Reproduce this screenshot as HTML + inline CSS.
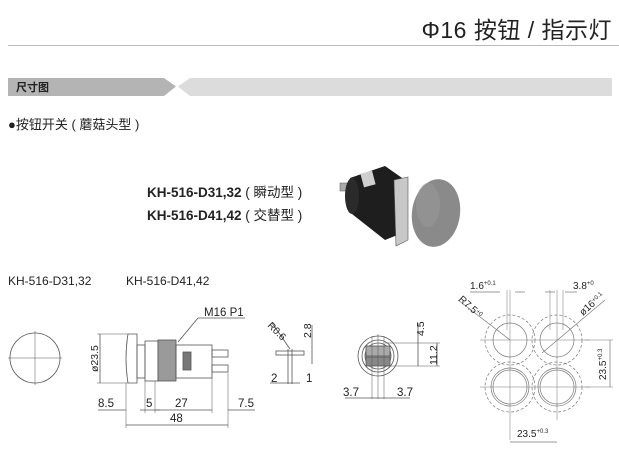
<!DOCTYPE html>
<html><head><meta charset="utf-8"><style>
html,body{margin:0;padding:0;background:#fff;}
svg{display:block;}
text{font-family:"Liberation Sans","Noto Sans CJK SC",sans-serif;fill:#222;}
</style></head><body>
<svg width="619" height="462" viewBox="0 0 619 462" xmlns="http://www.w3.org/2000/svg">
<text x="612" y="38" font-size="23" text-anchor="end" fill="#111" letter-spacing="0.5">Φ16 按钮 / 指示灯</text>
<line x1="8" y1="45.5" x2="619" y2="45.5" stroke="#bbb" stroke-width="1"/>
<polygon points="8,78 164,78 176,86.5 164,96 8,96" fill="#b4b4b4"/>
<polygon points="190,78 612,78 612,96 190,96 178,86.5" fill="#dcdcdc"/>
<text x="16" y="91" font-size="11" font-weight="bold" fill="#111">尺寸图</text>
<text x="8" y="129" font-size="13" xml:space="preserve">●按钮开关 ( 蘑菇头型 )</text>
<text x="147" y="197" font-size="13.5" font-weight="bold" fill="#111" xml:space="preserve">KH-516-D31,32<tspan font-weight="normal"> ( 瞬动型 )</tspan></text>
<text x="147" y="220" font-size="13.5" font-weight="bold" fill="#111" xml:space="preserve">KH-516-D41,42<tspan font-weight="normal"> ( 交替型 )</tspan></text>
<!-- photo -->
<g>
<rect x="340" y="183" width="10" height="8" fill="#aaa" stroke="#555" stroke-width="0.5"/>
<polygon points="350,178 385,166 405,180 405,232 385,240 352,214" fill="#1e1e1e"/>
<ellipse cx="352" cy="196" rx="7" ry="18" fill="#2a2a2a"/>
<rect x="362" y="172" width="12" height="14" fill="#cfcfcf" transform="rotate(-15 368 179)"/>
<polygon points="394,180 408,177 408,240 396,246" fill="#c8c8c8" stroke="#555" stroke-width="0.6"/>
<ellipse cx="436" cy="213" rx="24" ry="34" fill="#8a8a8a" transform="rotate(8 436 213)"/>
<ellipse cx="428" cy="205" rx="12" ry="22" fill="#999" opacity="0.5"/>
</g>
<text x="8" y="285" font-size="12" fill="#333">KH-516-D31,32</text>
<text x="126" y="285" font-size="12" fill="#333">KH-516-D41,42</text>
<g stroke="#555" stroke-width="0.8" fill="none">
<circle cx="35" cy="358" r="25"/>
<line x1="8" y1="358" x2="62" y2="358" stroke-width="0.5"/>
<line x1="35" y1="331" x2="35" y2="385" stroke-width="0.5"/>
<path d="M128,334 L137,334 L137,383 L128,383 Q124,358 128,334Z"/>
<rect x="137" y="345" width="8" height="33"/>
<rect x="145" y="341" width="13" height="40"/>
<rect x="158" y="340" width="18" height="41" fill="#9a9a9a"/>
<rect x="176" y="345" width="36" height="33"/>
<rect x="183" y="352" width="8" height="18" fill="#777"/>
<rect x="212" y="350" width="16" height="7"/>
<rect x="212" y="365" width="16" height="7"/>
<line x1="178" y1="342" x2="198" y2="318"/><line x1="198" y1="318" x2="245" y2="318"/>
<line x1="100" y1="334" x2="100" y2="383"/>
<line x1="97" y1="334" x2="128" y2="334" stroke-width="0.5"/>
<line x1="97" y1="383" x2="128" y2="383" stroke-width="0.5"/>
<line x1="126" y1="383" x2="126" y2="428" stroke-width="0.5"/>
<line x1="145" y1="381" x2="145" y2="413" stroke-width="0.5"/>
<line x1="155" y1="381" x2="155" y2="413" stroke-width="0.5"/>
<line x1="212" y1="378" x2="212" y2="413" stroke-width="0.5"/>
<line x1="228" y1="373" x2="228" y2="428" stroke-width="0.5"/>
<line x1="98" y1="410" x2="126" y2="410"/>
<line x1="140" y1="410" x2="160" y2="410"/>
<line x1="155" y1="410" x2="212" y2="410"/>
<line x1="228" y1="410" x2="255" y2="410"/>
<line x1="126" y1="425" x2="228" y2="425"/>
<line x1="272" y1="323" x2="290" y2="349"/>
<rect x="276" y="351" width="28" height="4"/>
<line x1="288" y1="349" x2="288" y2="384"/>
<line x1="292" y1="349" x2="292" y2="384"/>
<line x1="312" y1="325" x2="312" y2="364"/>
<line x1="270" y1="383" x2="300" y2="383"/>
<circle cx="378" cy="356" r="20"/>
<circle cx="378" cy="356" r="16"/>
<circle cx="378" cy="356" r="13"/>
<rect x="366" y="346" width="24" height="10" fill="#aaa"/>
<rect x="366" y="357" width="24" height="9" fill="#888"/>
<line x1="372" y1="336" x2="372" y2="399" stroke-width="0.5"/>
<line x1="378" y1="334" x2="378" y2="399" stroke-width="0.5"/>
<line x1="384" y1="336" x2="384" y2="399" stroke-width="0.5"/>
<line x1="385" y1="343" x2="440" y2="343" stroke-width="0.5"/>
<line x1="385" y1="366" x2="440" y2="366" stroke-width="0.5"/>
<line x1="418" y1="323" x2="418" y2="366"/>
<line x1="437" y1="343" x2="437" y2="366"/>
<line x1="345" y1="398" x2="410" y2="398"/>
</g>
<g stroke="#777" stroke-width="0.7" fill="none">
<g stroke-dasharray="3,2">
<circle cx="510" cy="340" r="25"/><circle cx="557" cy="340" r="25"/>
<circle cx="510" cy="387" r="25"/><circle cx="557" cy="387" r="25"/>
</g>
<circle cx="510" cy="340" r="17"/><circle cx="557" cy="340" r="17"/>
<circle cx="510" cy="387" r="17"/><circle cx="557" cy="387" r="17"/>
<circle cx="510" cy="387" r="19"/><circle cx="557" cy="387" r="19"/>
<line x1="480" y1="340" x2="590" y2="340" stroke-width="0.5"/>
<line x1="480" y1="387" x2="590" y2="387" stroke-width="0.5"/>
<line x1="510" y1="290" x2="510" y2="440" stroke-width="0.5"/>
<line x1="557" y1="290" x2="557" y2="420" stroke-width="0.5"/>
<line x1="507" y1="290" x2="507" y2="330" stroke-width="0.5"/>
<line x1="550" y1="290" x2="550" y2="330" stroke-width="0.5"/>
<line x1="563" y1="290" x2="563" y2="330" stroke-width="0.5"/>
<line x1="470" y1="292" x2="500" y2="292"/><line x1="515" y1="292" x2="525" y2="292"/>
<line x1="545" y1="292" x2="555" y2="292"/><line x1="565" y1="292" x2="577" y2="292"/>
<line x1="458" y1="300" x2="510" y2="340"/>
<line x1="542" y1="353" x2="605" y2="300"/>
<line x1="610" y1="340" x2="610" y2="387"/>
<line x1="585" y1="340" x2="613" y2="340" stroke-width="0.5"/>
<line x1="585" y1="387" x2="613" y2="387" stroke-width="0.5"/>
<line x1="510" y1="442" x2="557" y2="442"/>
</g>
<g font-size="11.5" fill="#333">
<text x="204" y="316">M16 P1</text>
<text transform="translate(98,372) rotate(-90)" font-size="10.5">ø23.5</text>
<text x="98" y="407">8.5</text>
<text x="146" y="407">5</text>
<text x="175" y="407">27</text>
<text x="238" y="407">7.5</text>
<text x="170" y="422">48</text>
<text transform="translate(267,326) rotate(45)" font-size="10">R0.6</text>
<text transform="translate(311,338) rotate(-90)" font-size="10.5">2.8</text>
<text x="271" y="382">2</text>
<text x="306" y="382">1</text>
<text transform="translate(424,336) rotate(-90)" font-size="10.5">4.5</text>
<text transform="translate(437,365) rotate(-90)" font-size="10.5">11.2</text>
<text x="343" y="396">3.7</text>
<text x="397" y="396">3.7</text>
<text x="470" y="289" font-size="10">1.6<tspan font-size="6" dy="-4">+0.1</tspan></text>
<text x="573" y="289" font-size="10">3.8<tspan font-size="6" dy="-4">+0</tspan></text>
<text transform="translate(458,300) rotate(42)" font-size="10">R7.5<tspan font-size="6" dy="-3">+0</tspan></text>
<text transform="translate(583,316) rotate(-42)" font-size="10">ø16<tspan font-size="6" dy="-3">+0.1</tspan></text>
<text transform="translate(606,380) rotate(-90)" font-size="10">23.5<tspan font-size="6" dy="-4">+0.3</tspan></text>
<text x="517" y="437" font-size="10">23.5<tspan font-size="6" dy="-4">+0.3</tspan></text>
</g>
</svg>
</body></html>
